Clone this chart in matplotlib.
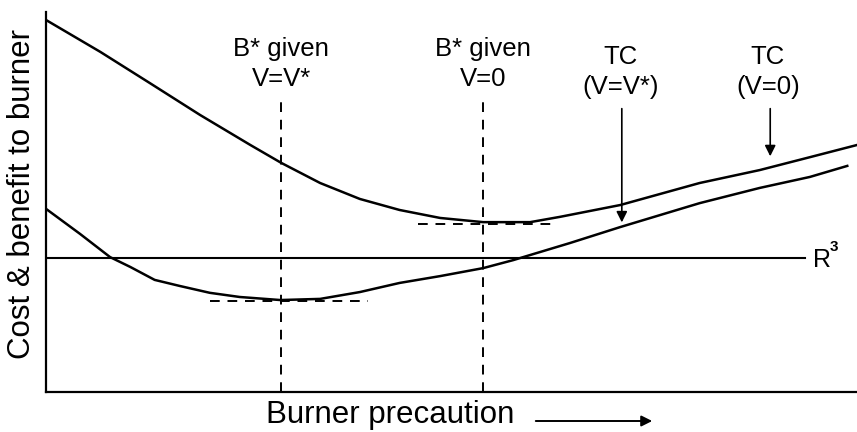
import matplotlib
matplotlib.use("Agg")
import matplotlib.pyplot as plt

plt.rcParams['font.family'] = ['Liberation Sans', 'DejaVu Sans']

# total cost with V=0 (upper curve)
tc0_x = [0, 6.7, 12.8, 19.0, 25.2, 29.0, 33.8, 38.7, 43.6, 48.6, 53.9, 59.7, 63.4, 70.8, 80.6, 88.0, 94.2, 100]
tc0_y = [97.9, 89.5, 81.3, 72.9, 65.0, 60.3, 55.0, 50.8, 47.9, 45.8, 44.7, 44.7, 46.1, 49.2, 55.0, 58.4, 61.8, 65.0]

# total cost with V=V* (lower curve)
tcv_x = [0, 4.2, 7.9, 10.4, 13.4, 16.5, 20.2, 23.9, 28.9, 33.8, 38.7, 43.6, 48.6, 53.9, 57.6, 64.6, 70.8, 80.6, 88.0, 94.2, 98.8]
tcv_y = [48.2, 41.6, 35.5, 32.9, 29.5, 27.9, 26.1, 25.0, 24.2, 24.5, 26.3, 28.7, 30.5, 32.6, 34.7, 39.2, 43.4, 49.7, 53.7, 56.6, 59.5]

r_level = 35.3
r_end = 93.6
bstar_vstar = 29.0
bstar_v0 = 53.9
min_vstar = 23.9
min_v0 = 44.2

fig = plt.figure(figsize=(8.57, 4.32), dpi=100)
ax = fig.add_axes([46/857, 40/432, 811/857, 380/432])
ax.set_xlim(0, 100)
ax.set_ylim(0, 100)

ax.plot(tc0_x, tc0_y, color="black", lw=1.8)
ax.plot(tcv_x, tcv_y, color="black", lw=1.8)
ax.plot([0, r_end], [r_level, r_level], color="black", lw=1.5)
ax.text(r_end + 1.0, r_level - 0.5, "R", fontsize=18, va="center", ha="left")
ax.text(r_end + 3.0, r_level + 2.8, "3", fontsize=11, va="center", ha="left", fontweight="bold")

# optimum markers
ax.plot([bstar_vstar, bstar_vstar], [0, 76.8], color="black", lw=1.4, ls=(0, (5, 4)))
ax.plot([bstar_v0, bstar_v0], [0, 76.8], color="black", lw=1.4, ls=(0, (5, 4)))
ax.plot([20.2, 39.7], [min_vstar, min_vstar], color="black", lw=1.4, ls=(0, (5, 4)))
ax.plot([45.9, 62.4], [min_v0, min_v0], color="black", lw=1.4, ls=(0, (5, 4)))

ax.text(bstar_vstar, 86.3, "B* given\nV=V*", fontsize=18.5, ha="center", va="center", linespacing=1.3)
ax.text(bstar_v0, 86.3, "B* given\nV=0", fontsize=18.5, ha="center", va="center", linespacing=1.3)
ax.text(70.9, 84.2, "TC\n(V=V*)", fontsize=18.5, ha="center", va="center", linespacing=1.3)
ax.text(89.0, 84.2, "TC\n(V=0)", fontsize=18.5, ha="center", va="center", linespacing=1.3)

ax.annotate("", xy=(71.0, 43.9), xytext=(71.0, 75.3),
            arrowprops=dict(arrowstyle="-|>", color="black", lw=1.2, mutation_scale=16))
ax.annotate("", xy=(89.3, 61.3), xytext=(89.3, 75.3),
            arrowprops=dict(arrowstyle="-|>", color="black", lw=1.2, mutation_scale=16))

for s in ["top", "right"]:
    ax.spines[s].set_visible(False)
for s in ["left", "bottom"]:
    ax.spines[s].set_linewidth(1.6)
ax.set_xticks([])
ax.set_yticks([])

fig.text(390/857, 1 - 415/432, "Burner precaution", fontsize=22.5, ha="center", va="center")
fig.text(22/857, 1 - 194/432, "Cost & benefit to burner", fontsize=22.5, ha="center", va="center", rotation=90)
fig.patches.append(matplotlib.patches.FancyArrowPatch(
    (533/857, 1 - 421/432), (655/857, 1 - 421/432), transform=fig.transFigure,
    arrowstyle="-|>", mutation_scale=16, color="black", lw=1.4))

fig.savefig("out.png", dpi=100)
